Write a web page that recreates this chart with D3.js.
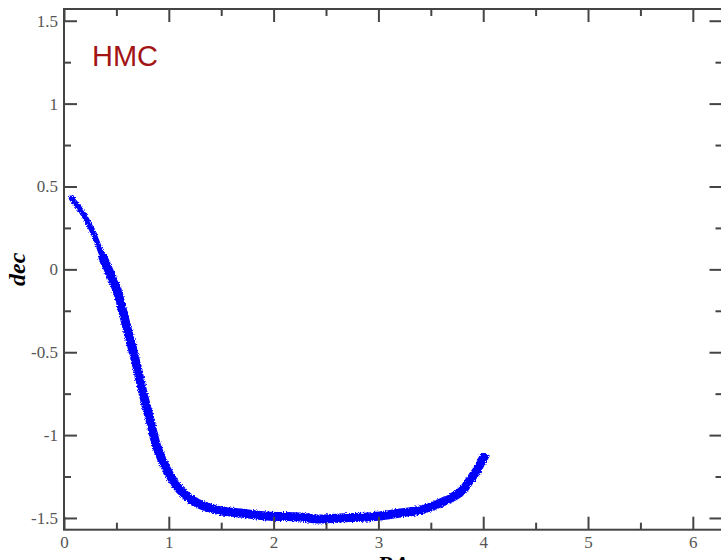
<!DOCTYPE html>
<html>
<head>
<meta charset="utf-8">
<script src="https://cdn.jsdelivr.net/npm/d3@7"></script>
<style>
  html, body { margin: 0; padding: 0; background: #fff; }
  svg { display: block; }
  .tick text { font-family: "Liberation Serif", "DejaVu Serif", serif; }
</style>
</head>
<body>
<svg id="chart" width="721" height="560"></svg>
<script>
// HMC chain trace in (RA, dec): centre of the sampled band
const chainRA  = [0.073, 0.181, 0.277, 0.372, 0.439, 0.515, 0.582, 0.649, 0.697, 0.754,
                  0.821, 0.887, 0.983, 1.107, 1.269, 1.460, 1.679, 1.937, 2.252, 2.414,
                  2.634, 2.891, 3.015, 3.206, 3.397, 3.588, 3.712, 3.807, 3.874, 3.941,
                  3.989, 4.008];
const chainDec = [0.428, 0.337, 0.223, 0.072, -0.024, -0.145, -0.307, -0.470, -0.590, -0.747,
                  -0.910, -1.072, -1.211, -1.331, -1.410, -1.452, -1.470, -1.488, -1.494, -1.506,
                  -1.500, -1.494, -1.488, -1.470, -1.452, -1.410, -1.373, -1.331, -1.271, -1.211,
                  -1.151, -1.133];
// first samples of the chain, before it settles into the band
const strayRA  = [0.022, 0.040];
const strayDec = [0.476, 0.460];

const xMajor = [0, 1, 2, 3, 4, 5, 6];
const xMinor = [0.5, 1.5, 2.5, 3.5, 4.5, 5.5];
const yMajor = [-1.5, -1, -0.5, 0, 0.5, 1, 1.5];
const yMinor = [-1.25, -0.75, -0.25, 0.25, 0.75, 1.25];

const svg = d3.select("#chart");
const x = d3.scaleLinear().domain([0, 2 * Math.PI]).range([64, 722.5]);
const y = d3.scaleLinear().domain([-Math.PI / 2, Math.PI / 2]).range([529.7, 9]);

// rough-edged band to show the scatter of individual samples
const defs = svg.append("defs");
const f = defs.append("filter").attr("id", "grain")
  .attr("x", "-5%").attr("y", "-5%").attr("width", "110%").attr("height", "110%");
f.append("feTurbulence").attr("type", "fractalNoise").attr("baseFrequency", 0.9)
  .attr("numOctaves", 2).attr("seed", 3).attr("result", "n");
f.append("feDisplacementMap").attr("in", "SourceGraphic").attr("in2", "n")
  .attr("scale", 4).attr("xChannelSelector", "R").attr("yChannelSelector", "G");

const pts = chainRA.map((r, i) => [r, chainDec[i]]);
const line = d3.line().x(d => x(d[0])).y(d => y(d[1])).curve(d3.curveCatmullRom);

const band = svg.append("g").attr("filter", "url(#grain)");
// thin start of the chain, broader once it runs down the steep part
band.append("path").datum(pts.slice(0, 5)).attr("d", line)
  .attr("fill", "none").attr("stroke", "#0000ff").attr("stroke-width", 5.5)
  .attr("stroke-linecap", "round");
band.append("path").datum(pts.slice(3)).attr("d", line)
  .attr("fill", "none").attr("stroke", "#0000ff").attr("stroke-width", 9)
  .attr("stroke-linecap", "round").attr("stroke-linejoin", "round");

svg.append("g").selectAll("path").data(strayRA.map((r, i) => [r, strayDec[i]])).join("path")
  .attr("transform", d => `translate(${x(d[0])},${y(d[1])})`)
  .attr("d", d3.symbol(d3.symbolPlus, 30))
  .attr("fill", "#0000ff");

// frame and inward ticks on all four sides
const axisColor = "#444";
function styleAxis(g) {
  g.select(".domain").remove();
  g.selectAll(".tick line").attr("stroke", axisColor).attr("stroke-width", 2);
  g.selectAll(".tick text").attr("fill", "#555").attr("font-size", 17);
}
const fmt = d => String(d);

svg.append("g").attr("transform", `translate(0,${y.range()[0]})`)
  .call(d3.axisBottom(x).tickValues(xMajor).tickSizeInner(-13).tickSizeOuter(0).tickPadding(6).tickFormat(fmt))
  .call(styleAxis);
svg.append("g").attr("transform", `translate(0,${y.range()[0]})`)
  .call(d3.axisBottom(x).tickValues(xMinor).tickSizeInner(-7).tickSizeOuter(0).tickFormat(""))
  .call(styleAxis);
svg.append("g").attr("transform", `translate(0,${y.range()[1]})`)
  .call(d3.axisTop(x).tickValues(xMajor).tickSizeInner(-13).tickSizeOuter(0).tickFormat(""))
  .call(styleAxis);
svg.append("g").attr("transform", `translate(0,${y.range()[1]})`)
  .call(d3.axisTop(x).tickValues(xMinor).tickSizeInner(-7).tickSizeOuter(0).tickFormat(""))
  .call(styleAxis);

svg.append("g").attr("transform", `translate(${x.range()[0]},0)`)
  .call(d3.axisLeft(y).tickValues(yMajor).tickSizeInner(-13).tickSizeOuter(0).tickPadding(6).tickFormat(fmt))
  .call(styleAxis);
svg.append("g").attr("transform", `translate(${x.range()[0]},0)`)
  .call(d3.axisLeft(y).tickValues(yMinor).tickSizeInner(-7).tickSizeOuter(0).tickFormat(""))
  .call(styleAxis);
svg.append("g").attr("transform", `translate(${x.range()[1]},0)`)
  .call(d3.axisRight(y).tickValues(yMajor).tickSizeInner(-13).tickSizeOuter(0).tickFormat(""))
  .call(styleAxis);
svg.append("g").attr("transform", `translate(${x.range()[1]},0)`)
  .call(d3.axisRight(y).tickValues(yMinor).tickSizeInner(-7).tickSizeOuter(0).tickFormat(""))
  .call(styleAxis);

svg.append("rect")
  .attr("x", x.range()[0]).attr("y", y.range()[1])
  .attr("width", x.range()[1] - x.range()[0]).attr("height", y.range()[0] - y.range()[1])
  .attr("fill", "none").attr("stroke", axisColor).attr("stroke-width", 2);

// axis titles
svg.append("text")
  .attr("transform", `translate(25,${y(0)}) rotate(-90)`)
  .attr("text-anchor", "middle")
  .attr("font-family", "Liberation Serif, serif").attr("font-style", "italic").attr("font-weight", "bold")
  .attr("font-size", 24).attr("fill", "#000")
  .text("dec");
svg.append("text")
  .attr("x", x(Math.PI)).attr("y", 572)
  .attr("text-anchor", "middle")
  .attr("font-family", "Liberation Serif, serif").attr("font-style", "italic").attr("font-weight", "bold")
  .attr("font-size", 24).attr("fill", "#000")
  .text("RA");

// sampler name
svg.append("text")
  .attr("x", 92).attr("y", 66)
  .attr("font-family", "Liberation Sans, Arial, sans-serif")
  .attr("font-size", 29).attr("fill", "#a31515")
  .text("HMC");
</script>
</body>
</html>
